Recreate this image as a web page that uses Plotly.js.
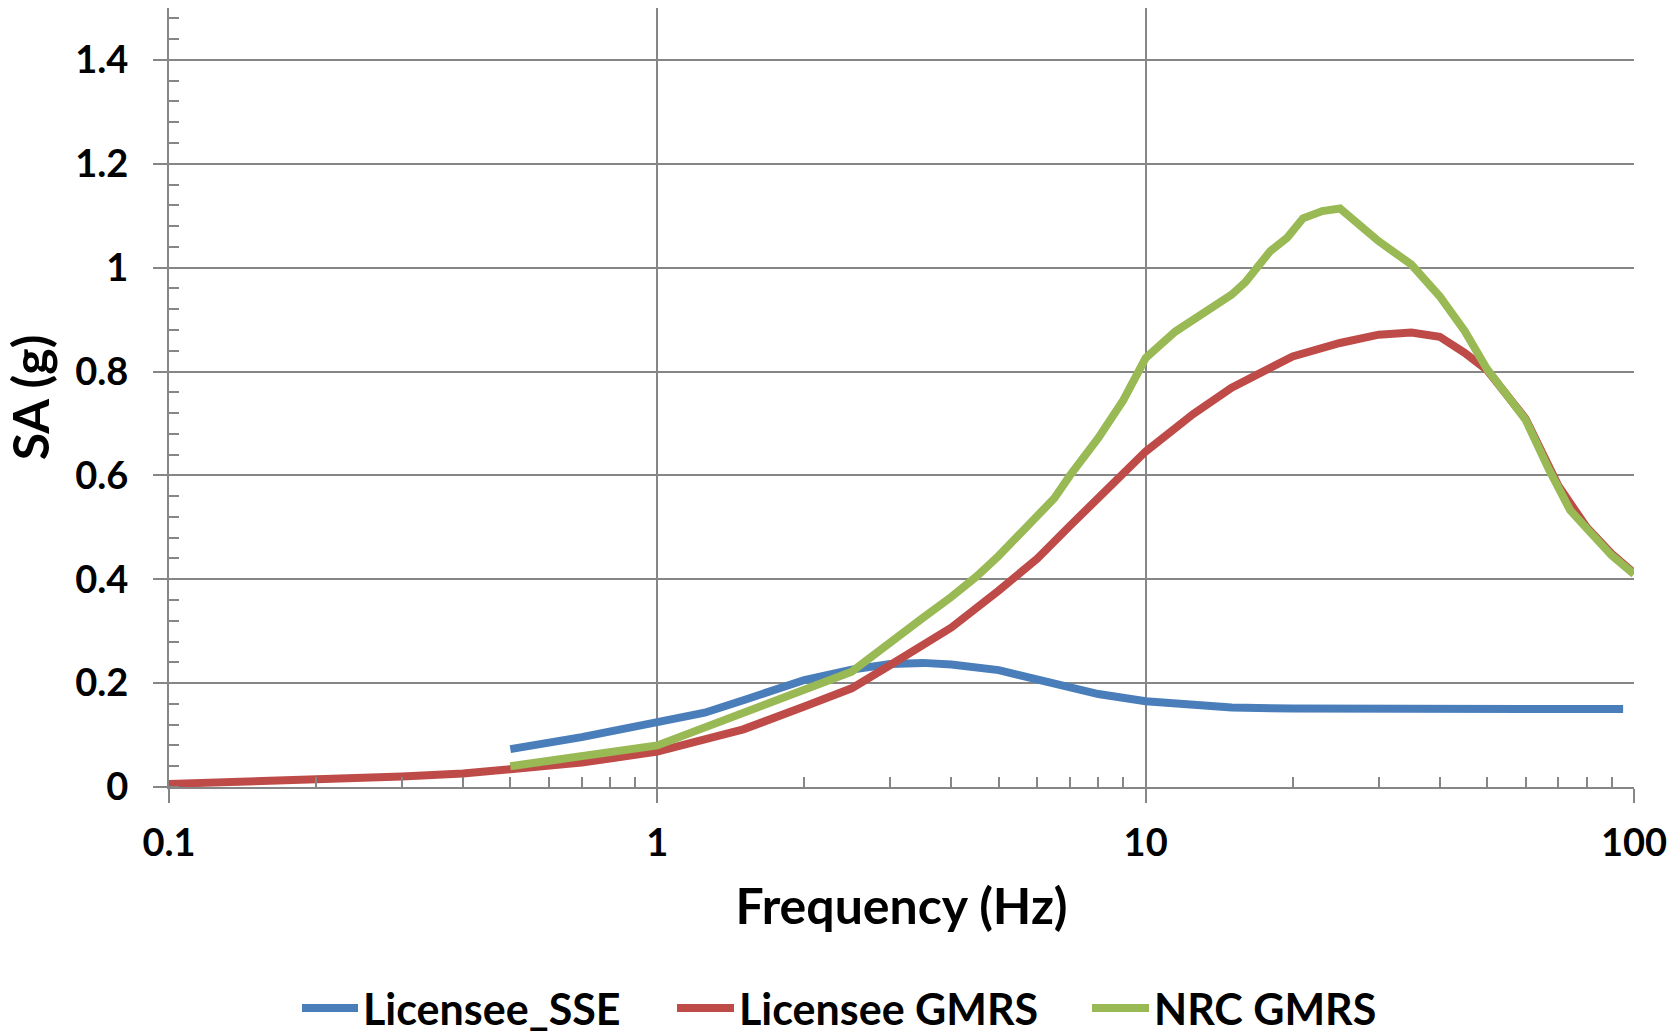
<!DOCTYPE html>
<html>
<head>
<meta charset="utf-8">
<script src="https://cdn.plot.ly/plotly-3.0.1.min.js"></script>
<style>
  html, body { margin: 0; padding: 0; background: #ffffff; }
  #chart { width: 1676px; height: 1034px; }
</style>
</head>
<body>
<div id="chart"></div>
<script>
// ---- data ----
const seriesNames = ["Licensee_SSE", "Licensee GMRS", "NRC GMRS"];

const sseFreq = [0.5, 0.7, 1, 1.25, 1.5, 2, 2.5, 3, 3.5, 4, 5, 6, 7, 8, 10, 12.5, 15, 20, 30, 50, 95];
const sseSA   = [0.073, 0.096, 0.125, 0.143, 0.167, 0.206, 0.226, 0.237, 0.239, 0.236, 0.225, 0.207, 0.192, 0.179, 0.165, 0.158, 0.153, 0.151, 0.150, 0.150, 0.150];

const licGmrsFreq = [0.1, 0.2, 0.3, 0.4, 0.5, 0.7, 1, 1.5, 2, 2.5, 3, 4, 5, 6, 7, 8, 10, 12.5, 15, 20, 25, 30, 35, 40, 45, 50, 60, 70, 80, 90, 100];
const licGmrsSA   = [0.006, 0.013, 0.020, 0.026, 0.034, 0.047, 0.068, 0.111, 0.155, 0.190, 0.235, 0.307, 0.378, 0.440, 0.503, 0.555, 0.646, 0.718, 0.769, 0.829, 0.855, 0.871, 0.875, 0.867, 0.836, 0.803, 0.709, 0.580, 0.500, 0.449, 0.412];

const nrcGmrsFreq = [0.5, 1, 2.5, 3, 3.5, 4, 4.5, 5, 5.5, 6, 6.5, 7, 8, 9, 10, 11.5, 13, 15, 16, 17, 18, 19.5, 21, 23, 25, 30, 35, 40, 45, 50, 55, 60, 67, 74, 80, 90, 100];
const nrcGmrsSA   = [0.040, 0.080, 0.222, 0.276, 0.326, 0.366, 0.405, 0.445, 0.485, 0.520, 0.556, 0.600, 0.672, 0.745, 0.826, 0.877, 0.909, 0.948, 0.972, 1.005, 1.032, 1.058, 1.095, 1.109, 1.114, 1.051, 1.006, 0.945, 0.878, 0.805, 0.755, 0.707, 0.611, 0.533, 0.498, 0.446, 0.410];

const xTickVals = [0.1, 1, 10, 100];
const xTickText = ["0.1", "1", "10", "100"];
const xMinorVals = [0.2,0.3,0.4,0.5,0.6,0.7,0.8,0.9, 2,3,4,5,6,7,8,9, 20,30,40,50,60,70,80,90];

const xTitle = "Frequency (Hz)";
const yTitle = "SA (g)";

// ---- styling ----
const FONT = "Lato, 'Open Sans', sans-serif";
const GRID = "#868686";
const colors = ["#4A7EBB", "#BE4B48", "#98B954"];

// plot area in pixels (for placing the legend below the plot)
const W = 1676, H = 1034;
const M = { l: 169, r: 42, t: 8, b: 247 };
const plotW = W - M.l - M.r, plotH = H - M.t - M.b;
const px = X => (X - M.l) / plotW;
const py = Y => (H - M.b - Y) / plotH;

// legend layout: [line start, line end, text start] in pixels
const legendPos = [[302, 358, 362], [677, 734, 738], [1092, 1149, 1153]];
const legendY = 1008;

const traces = [
  { x: sseFreq, y: sseSA, name: seriesNames[0] },
  { x: licGmrsFreq, y: licGmrsSA, name: seriesNames[1] },
  { x: nrcGmrsFreq, y: nrcGmrsSA, name: seriesNames[2] }
].map((t, i) => Object.assign(t, {
  type: "scatter",
  mode: "lines",
  line: { color: colors[i], width: 8, shape: "linear" },
  hoverinfo: "x+y+name",
  showlegend: false
}));

const shapes = legendPos.map((p, i) => ({
  type: "line", xref: "paper", yref: "paper",
  x0: px(p[0]), x1: px(p[1]), y0: py(legendY), y1: py(legendY),
  line: { color: colors[i], width: 8 }
}));

const annotations = legendPos.map((p, i) => ({
  xref: "paper", yref: "paper",
  x: px(p[2]), y: py(legendY),
  xanchor: "left", yanchor: "middle",
  text: seriesNames[i], showarrow: false,
  borderpad: 0,
  font: { family: FONT, size: 43, weight: "bold", color: "#000000" }
}));

const layout = {
  width: W,
  height: H,
  margin: { l: M.l, r: M.r, t: M.t, b: M.b, pad: 0 },
  paper_bgcolor: "#ffffff",
  plot_bgcolor: "#ffffff",
  showlegend: false,
  font: { family: FONT, color: "#000000", weight: "bold" },
  shapes: shapes,
  annotations: annotations,
  xaxis: {
    type: "log",
    range: [-1, 2],
    automargin: false,
    tickmode: "array",
    tickvals: xTickVals,
    ticktext: xTickText,
    ticks: "outside",
    ticklen: 14,
    tickwidth: 2,
    tickcolor: GRID,
    showgrid: true,
    gridcolor: GRID,
    gridwidth: 2,
    showline: true,
    linecolor: GRID,
    linewidth: 2,
    zeroline: false,
    tickfont: { family: FONT, size: 38, weight: "bold", color: "#000000" },
    ticklabelstandoff: 7,
    minor: {
      tickmode: "array",
      tickvals: xMinorVals,
      ticks: "inside",
      ticklen: 10,
      tickwidth: 2,
      tickcolor: GRID,
      showgrid: false
    },
    title: {
      text: xTitle,
      font: { family: FONT, size: 50, weight: "bold", color: "#000000" },
      standoff: 26
    }
  },
  yaxis: {
    range: [0, 1.5],
    automargin: false,
    tick0: 0,
    dtick: 0.2,
    ticks: "outside",
    ticklen: 14,
    tickwidth: 2,
    tickcolor: GRID,
    showgrid: true,
    gridcolor: GRID,
    gridwidth: 2,
    showline: true,
    linecolor: GRID,
    linewidth: 2,
    zeroline: false,
    tickfont: { family: FONT, size: 38, weight: "bold", color: "#000000" },
    ticklabelstandoff: 17,
    minor: {
      dtick: 0.04,
      ticks: "inside",
      ticklen: 10,
      tickwidth: 2,
      tickcolor: GRID,
      showgrid: false
    },
    title: {
      text: yTitle,
      font: { family: FONT, size: 50, weight: "bold", color: "#000000" },
      standoff: 10
    }
  }
};

Plotly.newPlot("chart", traces, layout, { displayModeBar: false, staticPlot: true });
</script>
</body>
</html>
